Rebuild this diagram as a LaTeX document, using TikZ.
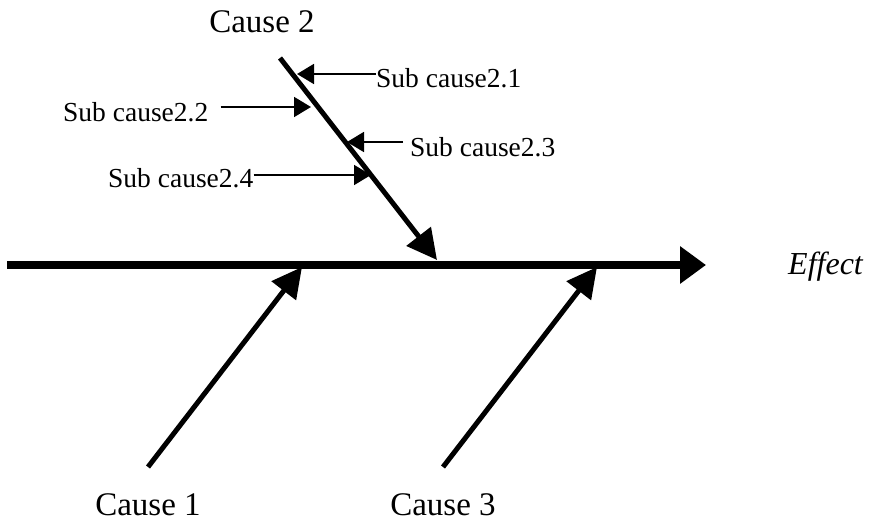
\documentclass[tikz,border=0pt]{standalone}
\usepackage{fontspec}
\setmainfont{Liberation Serif}
\usetikzlibrary{arrows.meta}

\tikzset{
  spine/.style={line width=8pt, -{Triangle[length=26pt,width=36pt]}},
  bone/.style={line width=5pt, -{Triangle[length=30pt,width=30pt]}},
  twig/.style={line width=1.7pt, -{Triangle[length=17pt,width=20pt]}},
  causelabel/.style={inner sep=0pt, anchor=base, font=\fontsize{33}{36}\selectfont},
  sublabel/.style={inner sep=0pt, anchor=base west, font=\fontsize{27.5}{30}\selectfont},
}

\begin{document}
\begin{tikzpicture}[x=1pt, y=-1pt]
  \useasboundingbox (0,0) rectangle (871,521);

  % main spine and effect
  \coordinate (tail) at (7,265);
  \coordinate (head) at (706,265);
  \node[inner sep=0pt, anchor=base west, font=\fontsize{32}{35}\selectfont\itshape] (effect) at (788,275) {Effect};
  \draw[spine] (tail) -- (head);

  % cause 2 (upper bone)
  \node[causelabel] (cause2) at (262,33) {Cause 2};
  \coordinate (c2s) at (280,58);
  \coordinate (c2e) at (437,260);
  \draw[bone] (c2s) -- (c2e);

  % cause 1 and cause 3 (lower bones)
  \node[causelabel] (cause1) at (148,515) {Cause 1};
  \coordinate (c1s) at (148,467);
  \coordinate (c1e) at (302,267);
  \draw[bone] (c1s) -- (c1e);

  \node[causelabel] (cause3) at (443,515) {Cause 3};
  \coordinate (c3s) at (443,467);
  \coordinate (c3e) at (597,267);
  \draw[bone] (c3s) -- (c3e);

  % sub causes of cause 2
  \node[sublabel] (s21) at (376,88) {Sub cause2.1};
  \node[sublabel] (s22) at (63,122) {Sub cause2.2};
  \node[sublabel] (s23) at (410,157) {Sub cause2.3};
  \node[sublabel] (s24) at (108,188) {Sub cause2.4};

  \coordinate (t21) at (297,74);
  \coordinate (t22) at (311,107);
  \coordinate (t23) at (347,142);
  \coordinate (t24) at (371,175);

  \draw[twig] (t21 -| s21.west) -- (t21);
  \draw[twig] ([xshift=12pt]t22 -| s22.east) -- (t22);
  \draw[twig] ([xshift=-7pt]t23 -| s23.west) -- (t23);
  \draw[twig] (t24 -| s24.east) -- (t24);
\end{tikzpicture}
\end{document}
